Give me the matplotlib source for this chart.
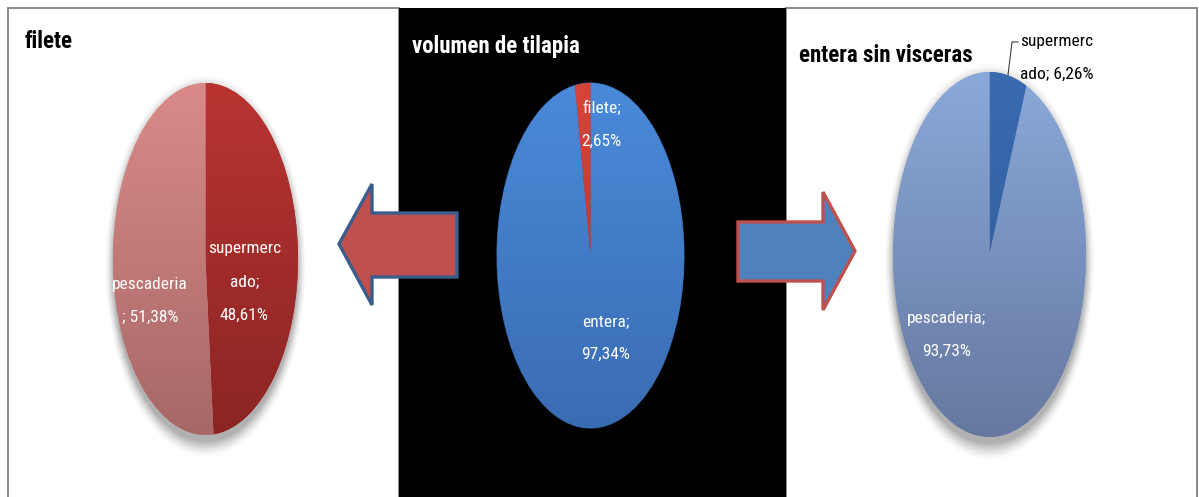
import numpy as np
import matplotlib
matplotlib.use("Agg")
import matplotlib.pyplot as plt
from matplotlib import font_manager
from matplotlib.patches import Rectangle, Polygon, Ellipse
from matplotlib.colors import LinearSegmentedColormap

# ---- data -------------------------------------------------------------
filete_names = ["supermercado", "pescaderia"]
filete_values = [48.61, 51.38]

volumen_names = ["entera", "filete"]
volumen_values = [97.34, 2.65]

entera_names = ["supermercado", "pescaderia"]
entera_values = [6.26, 93.73]

titles = ["filete", "volumen de tilapia", "entera sin visceras"]

# ---- fonts: prefer a narrow sans family -------------------------------
fonts = font_manager.fontManager.ttflist
narrow = None
for pref in ["Liberation Sans Narrow", "Roboto Condensed", "Open Sans Condensed",
             "DejaVu Sans Condensed", "Noto Sans Condensed"]:
    if any(f.name == pref for f in fonts):
        narrow = pref
        break
STRETCH = "normal"
if narrow is None:
    cond = [f for f in fonts
            if str(f.stretch) in ("condensed", "semi-condensed", "extra-condensed")
            or "Condensed" in f.fname or "Narrow" in f.fname]
    if cond:
        narrow = cond[0].name
        STRETCH = "condensed"
if narrow is None:
    narrow = "Liberation Sans"
plt.rcParams["font.family"] = [narrow, "DejaVu Sans"]
plt.rcParams["font.stretch"] = STRETCH


def pct(v):
    return f"{v:.2f}".replace(".", ",") + "%"


W, H = 1199, 497
fig = plt.figure(figsize=(W / 100, H / 100), dpi=100)
fig.patch.set_facecolor("white")

# background axes in pixel units
bg = fig.add_axes([0, 0, 1, 1])
bg.set_xlim(0, W)
bg.set_ylim(H, 0)
bg.axis("off")

# panels
bg.add_patch(Rectangle((8, 8), 391, H, facecolor="white", edgecolor="#8a8a8a", lw=1.4))
bg.add_patch(Rectangle((786, 8), 411, H, facecolor="white", edgecolor="#8a8a8a", lw=1.4))
bg.add_patch(Rectangle((399, 8), 387, H, facecolor="black", edgecolor="none"))

# arrows
red_arrow = [(339, 244), (372, 184), (372, 213), (457, 213),
             (457, 277), (372, 277), (372, 305)]
bg.add_patch(Polygon(red_arrow, closed=True, facecolor="#C0504D",
                     edgecolor="#3B5D8C", lw=2.4, joinstyle="miter"))
blue_arrow = [(738, 222), (823, 222), (823, 192), (855, 251),
              (823, 310), (823, 281), (738, 281)]
bg.add_patch(Polygon(blue_arrow, closed=True, facecolor="#4F81BD",
                     edgecolor="#C0504D", lw=2.4, joinstyle="miter"))

# titles
tt = dict(fontsize=16.5, weight="bold", va="center", ha="left")
bg.text(25, 41, titles[0], color="black", **tt)
bg.text(412, 47, titles[1], color="white", **tt)
bg.text(799, 55, titles[2], color="black", **tt)


def pie_axes(x0, x1, y0, y1):
    return fig.add_axes([x0 / W, 1 - y1 / H, (x1 - x0) / W, (y1 - y0) / H])


def draw_pie(ax, values, grads, shadow=True, edge="none"):
    ax.set_facecolor("none")
    if shadow:
        for i, a in enumerate(np.linspace(0.07, 0.015, 8)):
            s = 1.0 + 0.012 * i
            ax.add_patch(Ellipse((0.0, -0.04), 2 * s, 2 * s, facecolor="black",
                                 alpha=a, lw=0, zorder=0, clip_on=False))
    wedges, _ = ax.pie(values, startangle=90, counterclock=False,
                       colors=[g[0] for g in grads], radius=1,
                       wedgeprops=dict(edgecolor=edge, linewidth=0.8))
    yy = np.linspace(0, 1, 256).reshape(-1, 1)
    for w, (top, bot) in zip(wedges, grads):
        cmap = LinearSegmentedColormap.from_list("g", [top, bot])
        im = ax.imshow(yy, extent=[-1, 1, -1, 1], cmap=cmap, aspect="auto",
                       origin="upper", zorder=w.get_zorder() + 0.1)
        im.set_clip_path(w)
    ax.set_aspect("auto")
    ax.set_xlim(-1, 1)
    ax.set_ylim(-1, 1)
    ax.axis("off")
    return wedges


tk = dict(color="white", fontsize=12.5, ha="center", va="center", linespacing=2.5)

# left pie: filete
axL = pie_axes(113, 298, 83, 435)
draw_pie(axL, filete_values,
         [("#B93431", "#8A2524"), ("#DA8B89", "#A66866")])
axL.text(0.42, -0.13, "supermerc\nado;\n" + pct(filete_values[0]), **tk)
axL.text(-0.6, -0.24, "pescaderia\n; " + pct(filete_values[1]), **tk)

# middle pie: volumen de tilapia
axM = pie_axes(497, 684, 83, 428)
draw_pie(axM, volumen_values,
         [("#4A8AD9", "#3A6CB3"), ("#D8443A", "#B0302A")],
         shadow=False, edge="#2E5C99")
axM.text(0.12, 0.76, volumen_names[1] + ";\n" + pct(volumen_values[1]), **tk)
axM.text(0.16, -0.48, volumen_names[0] + ";\n" + pct(volumen_values[0]), **tk)

# right pie: entera sin visceras
axR = pie_axes(893, 1086, 72, 437)
draw_pie(axR, entera_values,
         [("#3A6BB0", "#2E5A98"), ("#8AA9DA", "#66789F")])
axR.text(-0.44, -0.44, "pescaderia;\n" + pct(entera_values[1]), **tk)

# outside label with leader line for the small slice
bg.plot([1008, 1012, 1018], [75, 42, 42], color="#404040", lw=0.8)
bg.text(1020, 58, "supermerc\nado; " + pct(entera_values[0]), color="black",
        fontsize=12.5, ha="left", va="center", linespacing=2.5)

fig.savefig("out.png", dpi=100)
